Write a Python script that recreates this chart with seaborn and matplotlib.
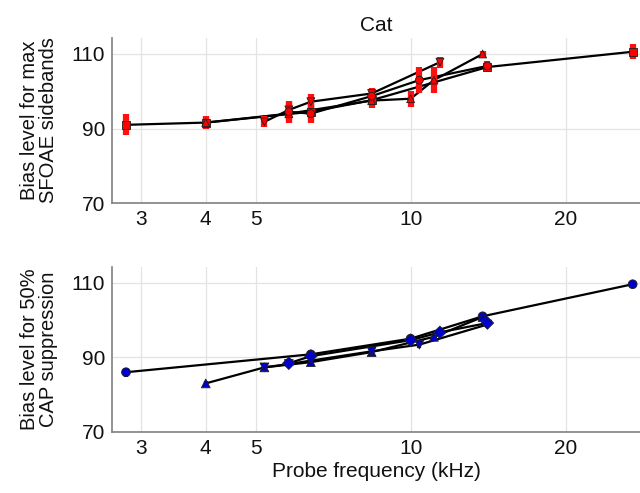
import numpy as np
import pandas as pd
import matplotlib
matplotlib.use('Agg')
import matplotlib.pyplot as plt
from matplotlib.ticker import FixedLocator, FixedFormatter, NullLocator
import seaborn as sns

sns.set_theme(style='whitegrid')
plt.rcParams['font.family'] = ['Liberation Sans', 'DejaVu Sans']

# top panel: bias level for max SFOAE sidebands (one list per animal)
top_animals = ['A', 'B', 'C', 'D']
top_markers = ['s', '^', 'v', 'o']
top_freq = [
    [2.8, 4.0, 6.4, 8.4, 14.1, 27.0],
    [4.0, 5.8, 8.4, 10.0, 11.1, 13.8],
    [5.2, 5.8, 6.4, 8.4, 11.4],
    [5.8, 6.4, 8.4, 10.4, 14.1],
]
top_bias = [
    [91.0, 91.6, 94.5, 97.6, 106.5, 110.6],
    [91.6, 94.0, 97.5, 98.0, 103.0, 110.0],
    [91.8, 95.0, 97.2, 99.4, 107.8],
    [94.5, 94.0, 98.7, 103.0, 106.8],
]
top_err = [
    [2.8, 1.8, 2.5, 1.5, 1.0, 2.0],
    [1.6, 2.5, 2.0, 2.2, 3.5, 0.8],
    [1.5, 2.5, 2.0, 1.5, 1.5],
    [2.5, 2.5, 2.0, 3.5, 1.2],
]

# bottom panel: bias level for 50% CAP suppression
bot_animals = ['A', 'B', 'C', 'D']
bot_markers = ['o', '^', 'v', 'D']
bot_freq = [
    [2.8, 6.4, 10.0, 13.8, 27.0],
    [4.0, 5.2, 6.4, 8.4, 11.1, 13.8],
    [5.2, 5.8, 8.4, 10.4, 14.1],
    [5.8, 6.4, 10.0, 11.4, 14.1],
]
bot_bias = [
    [86.0, 90.8, 95.0, 101.0, 109.6],
    [83.0, 87.3, 88.7, 91.4, 95.5, 100.8],
    [87.3, 88.2, 91.6, 93.4, 98.8],
    [88.4, 90.3, 94.6, 96.7, 99.2],
]
bot_err = [
    [1.2, 0.8, 0.6, 0.8, 0.5],
    [0.6, 0.5, 0.5, 0.6, 0.6, 0.8],
    [0.5, 0.5, 0.8, 0.8, 0.8],
    [0.6, 0.6, 0.6, 0.6, 0.8],
]

xticks = [3, 4, 5, 10, 20]
yticks = [70, 90, 110]


def make_df(animals, freqs, vals, errs):
    rows = []
    for a, fs, vs, es in zip(animals, freqs, vals, errs):
        for f, v, e in zip(fs, vs, es):
            rows.append({'animal': a, 'freq': f, 'bias': v, 'err': e})
    return pd.DataFrame(rows)


def draw(ax, df, markers, mcolor, ecolor, elw, msize):
    sns.lineplot(data=df, x='freq', y='bias', units='animal', estimator=None,
                 sort=False, color='black', lw=1.6, ax=ax, legend=False, zorder=2)
    ax.errorbar(df['freq'], df['bias'], yerr=df['err'], fmt='none',
                ecolor=ecolor, elinewidth=elw, capsize=0, zorder=3)
    sns.scatterplot(data=df, x='freq', y='bias', style='animal', markers=markers,
                    color=mcolor, edgecolor='#202020', linewidth=0.6, s=msize,
                    ax=ax, legend=False, zorder=4)
    ax.set_xscale('log')
    ax.set_xlim(2.63, 27.9)
    ax.set_ylim(70, 114.3)
    ax.xaxis.set_major_locator(FixedLocator(xticks))
    ax.xaxis.set_major_formatter(FixedFormatter([str(t) for t in xticks]))
    ax.xaxis.set_minor_locator(NullLocator())
    ax.set_yticks(yticks)
    ax.grid(True, color='#e3e3e3', lw=0.9)
    for s in ['top', 'right']:
        ax.spines[s].set_visible(False)
    for s in ['left', 'bottom']:
        ax.spines[s].set_color('#808080')
        ax.spines[s].set_linewidth(1.2)
    ax.tick_params(axis='both', labelsize=15, direction='in', length=4,
                   color='#808080', labelcolor='#111111', pad=5)
    ax.set_facecolor('white')


fig = plt.figure(figsize=(6.4, 4.93), dpi=100)
ax1 = fig.add_axes([0.175, 0.588, 0.825, 0.335])
ax2 = fig.add_axes([0.175, 0.124, 0.825, 0.335])

df_top = make_df(top_animals, top_freq, top_bias, top_err)
df_bot = make_df(bot_animals, bot_freq, bot_bias, bot_err)

draw(ax1, df_top, top_markers, '#ff0000', '#ff1010', 4.5, 32)
draw(ax2, df_bot, bot_markers, '#0000cc', '#0000cc', 3.0, 40)

ax1.set_title('Cat', fontsize=15, pad=5, color='#111111')
ax1.set_xlabel('')
ax1.set_ylabel('Bias level for max\nSFOAE sidebands', fontsize=14.5, labelpad=10,
               linespacing=0.95, color='#111111')
ax2.set_ylabel('Bias level for 50%\nCAP suppression', fontsize=14.5, labelpad=10,
               linespacing=0.95, color='#111111')
ax2.set_xlabel('Probe frequency (kHz)', fontsize=15, labelpad=3, color='#111111')

fig.savefig('out.png', dpi=100, facecolor='white')
